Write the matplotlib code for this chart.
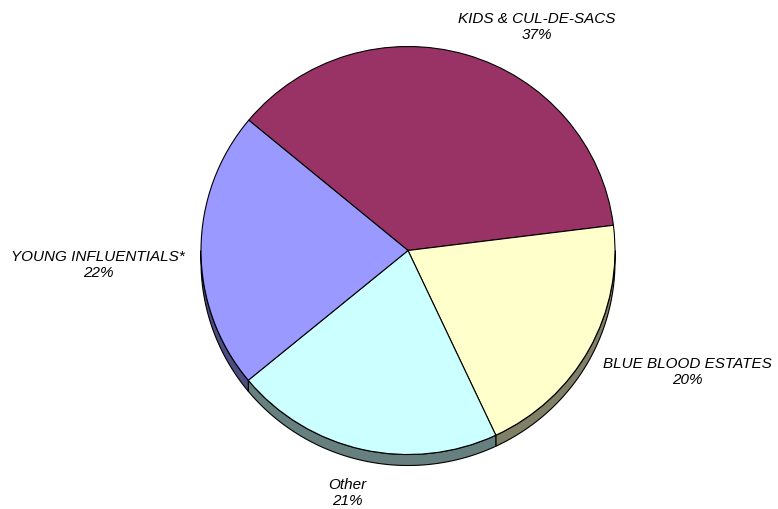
import numpy as np
import matplotlib.pyplot as plt
from matplotlib.patches import Polygon

# segment shares (percent) as printed on the chart
segments = ['KIDS & CUL-DE-SACS', 'BLUE BLOOD ESTATES', 'Other', 'YOUNG INFLUENTIALS*']
shares = [37, 20, 21, 22]
colors = ['#993366', '#FFFFCC', '#CCFFFF', '#9999FF']

# label anchor points (pixel position in the 778x510 picture)
label_px = [(537, 27), (687, 372), (347, 493), (98, 265)]

W, H = 778, 510
cx, cy = 408, 251.5   # pie centre in pixels
rx, ry = 207, 204     # slightly squashed disc
depth = 11 / ry       # 3d thickness of the disc

plt.rcParams['font.family'] = ['Liberation Sans', 'DejaVu Sans']

fig = plt.figure(figsize=(W / 100, H / 100), dpi=100)
ax = fig.add_axes([0, 0, 1, 1])

wedges, _ = ax.pie(shares, colors=colors, startangle=140.3, counterclock=False,
                   radius=1, center=(0, 0), frame=True,
                   wedgeprops=dict(edgecolor='black', linewidth=0.8))
ax.set_aspect('auto')
ax.set_xlim(-cx / rx, (W - cx) / rx)
ax.set_ylim((cy - H) / ry, cy / ry)
ax.axis('off')
for w in wedges:
    w.set_zorder(3)


def darker(c):
    rgb = np.array(plt.matplotlib.colors.to_rgb(c))
    return tuple(rgb * 0.5)


# side of the disc, only visible in the lower half
for w, c in zip(wedges, colors):
    t1, t2 = w.theta1, w.theta2
    for k in (-360, 0, 360):
        lo = max(t1, -180 + k)
        hi = min(t2, 0 + k)
        if hi - lo <= 0:
            continue
        t = np.radians(np.linspace(lo, hi, 80))
        top = np.column_stack([np.cos(t), np.sin(t)])
        bot = np.column_stack([np.cos(t), np.sin(t) - depth])[::-1]
        ax.add_patch(Polygon(np.vstack([top, bot]), closed=True,
                             facecolor=darker(c), edgecolor='black',
                             linewidth=0.8, zorder=2))

for name, pct, (px, py) in zip(segments, shares, label_px):
    ax.text((px - cx) / rx, (cy - py) / ry, f'{name}\n{pct}%',
            ha='center', va='center', multialignment='center',
            fontsize=11, fontstyle='italic', color='black')

fig.savefig('out.png', dpi=100, facecolor='white')
